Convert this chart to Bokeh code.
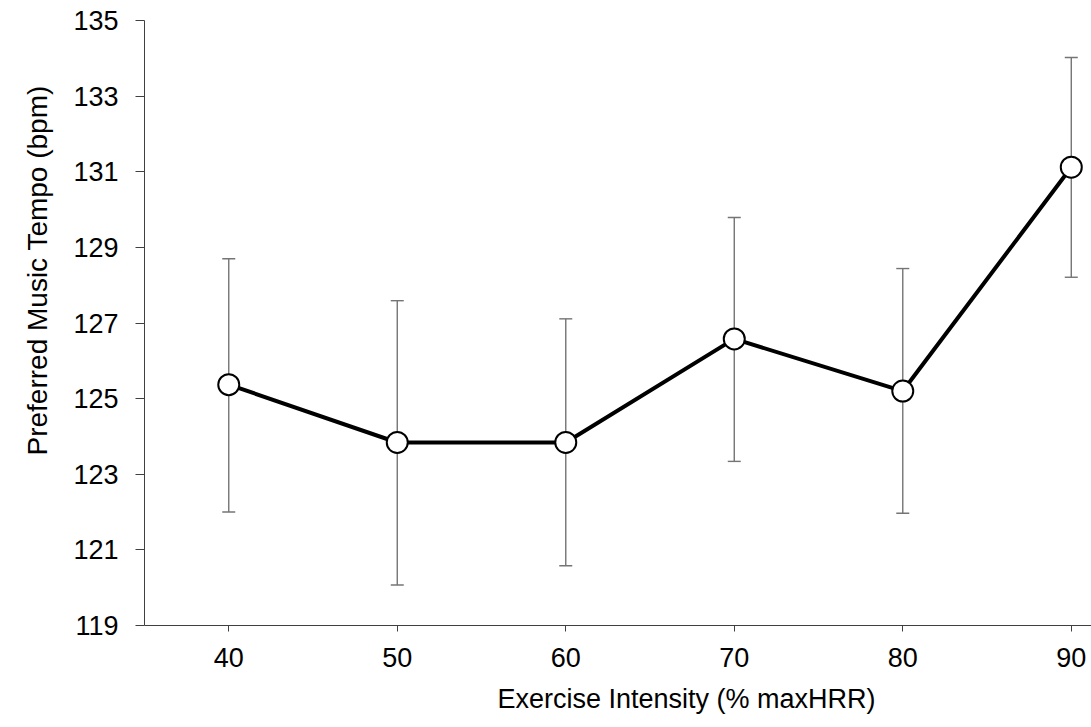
from bokeh.plotting import figure
from bokeh.models import ColumnDataSource, Whisker, TeeHead, FixedTicker, Range1d, Title
from bokeh.embed import file_html
from bokeh.resources import INLINE

# ---- data ----
intensity = [40, 50, 60, 70, 80, 90]
tempo_mean = [125.37, 123.84, 123.84, 126.58, 125.20, 131.12]
tempo_upper = [128.70, 127.59, 127.11, 129.79, 128.44, 134.02]
tempo_lower = [122.00, 120.07, 120.58, 123.34, 121.97, 128.21]
y_ticks = [119, 121, 123, 125, 127, 129, 131, 133, 135]
x_ticks = [40, 50, 60, 70, 80, 90]
x_title = "Exercise Intensity (% maxHRR)"
y_title = "Preferred Music Tempo (bpm)"

FONT = "Liberation Sans"
AXIS_COL = "#404040"
ERR_COL = "#747474"

src = ColumnDataSource(dict(x=intensity, mean=tempo_mean, upper=tempo_upper, lower=tempo_lower))

p = figure(width=1091, height=727, output_backend="svg", toolbar_location=None,
           x_range=Range1d(35, 91.2), y_range=Range1d(119, 135),
           min_border_left=144, min_border_right=0, min_border_top=20, min_border_bottom=102)
p.outline_line_color = None
p.background_fill_color = "white"
p.border_fill_color = "white"
p.grid.visible = False

# axes
for ax in (p.xaxis[0], p.yaxis[0]):
    ax.axis_line_color = AXIS_COL
    ax.axis_line_width = 1
    ax.major_tick_line_color = AXIS_COL
    ax.major_tick_in = 0
    ax.minor_tick_line_color = None
    ax.major_label_text_font = FONT
    ax.major_label_text_font_size = "27px"
    ax.major_label_text_color = "#000000"

p.xaxis[0].ticker = FixedTicker(ticks=x_ticks)
p.xaxis[0].major_tick_out = 6
p.xaxis[0].major_label_standoff = 16
p.yaxis[0].ticker = FixedTicker(ticks=y_ticks)
p.yaxis[0].major_tick_out = 9
p.yaxis[0].major_label_standoff = 17

# error bars
wh = Whisker(source=src, base="x", upper="upper", lower="lower", dimension="height",
             line_color=ERR_COL, line_width=1.4,
             upper_head=TeeHead(size=13, line_color=ERR_COL, line_width=1.4),
             lower_head=TeeHead(size=13, line_color=ERR_COL, line_width=1.4))
p.add_layout(wh)

# line and markers
p.line(x="x", y="mean", source=src, line_color="black", line_width=4, line_join="round")
p.scatter(x="x", y="mean", source=src, marker="circle", size=21,
          fill_color="white", line_color="black", line_width=2)

# axis titles
p.add_layout(Title(text=x_title, text_font=FONT, text_font_size="27px", text_font_style="normal",
                   text_color="#000000", align="left", offset=353, standoff=25), "below")
p.add_layout(Title(text=y_title, text_font=FONT, text_font_size="28px", text_font_style="normal",
                   text_color="#000000", align="left", offset=170, standoff=35), "left")

open("out.html", "w").write(file_html(p, INLINE))
